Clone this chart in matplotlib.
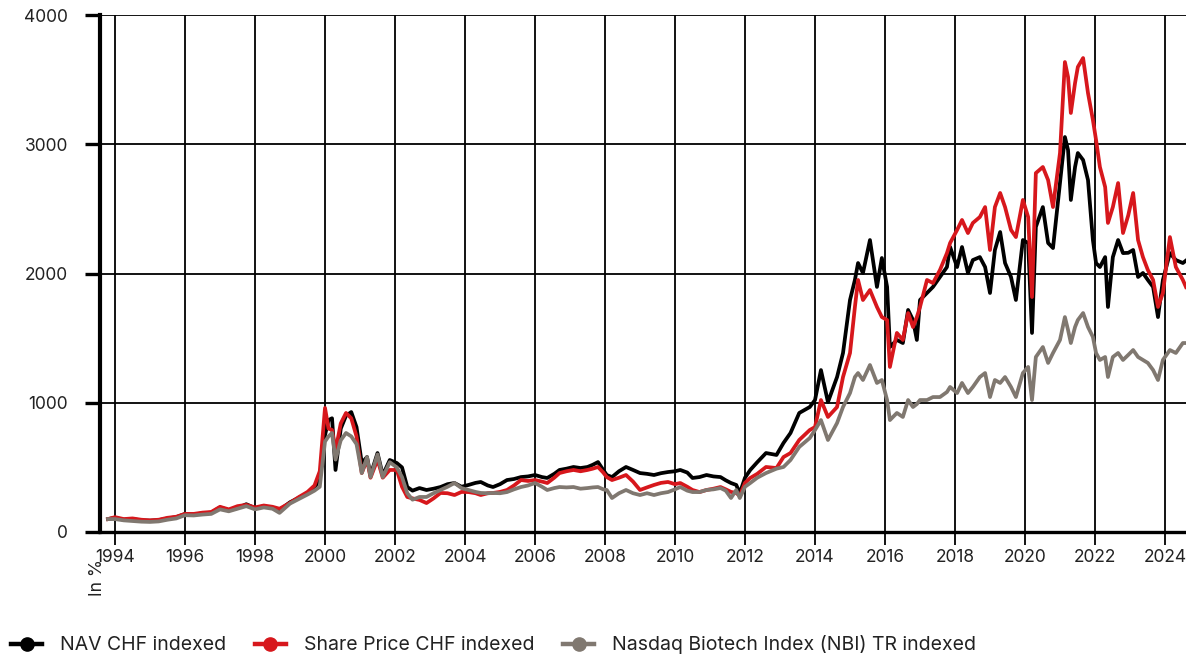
import matplotlib
matplotlib.use("Agg")
import matplotlib.pyplot as plt
from matplotlib.lines import Line2D

plt.rcParams['font.family'] = ['Inter', 'DejaVu Sans']

# time axis in fractional years (indexed, in %)
dates = [1993.8, 1994.0, 1994.25, 1994.5, 1994.75, 1995.0, 1995.25, 1995.5, 1995.75,
         1996.0, 1996.25, 1996.5, 1996.75, 1997.0, 1997.25, 1997.5, 1997.75, 1998.0,
         1998.25, 1998.5, 1998.7, 1999.0, 1999.25, 1999.5, 1999.7, 1999.85, 2000.0,
         2000.1, 2000.2, 2000.3, 2000.45, 2000.6, 2000.75, 2000.9, 2001.05, 2001.2,
         2001.3, 2001.5, 2001.65, 2001.85, 2002.05, 2002.2, 2002.35, 2002.5, 2002.7,
         2002.9, 2003.1, 2003.3, 2003.5, 2003.7, 2003.9, 2004.1, 2004.3, 2004.45,
         2004.65, 2004.8, 2005.0, 2005.2, 2005.4, 2005.6, 2005.8, 2006.0, 2006.2,
         2006.35, 2006.55, 2006.7, 2006.9, 2007.1, 2007.3, 2007.5, 2007.65, 2007.8,
         2007.95, 2008.05, 2008.2, 2008.4, 2008.6, 2008.8, 2009.0, 2009.2, 2009.4,
         2009.6, 2009.8, 2010.0, 2010.15, 2010.35, 2010.5, 2010.7, 2010.9, 2011.1,
         2011.3, 2011.45, 2011.6, 2011.75, 2011.85, 2012.0, 2012.15, 2012.35, 2012.6,
         2012.9, 2013.1, 2013.3, 2013.55, 2013.85, 2014.0, 2014.17, 2014.37, 2014.63,
         2014.8, 2015.0, 2015.14, 2015.23, 2015.37, 2015.57, 2015.77, 2015.91, 2016.06,
         2016.14, 2016.34, 2016.51, 2016.66, 2016.8, 2016.91, 2017.0, 2017.2, 2017.37,
         2017.57, 2017.77, 2017.86, 2018.06, 2018.2, 2018.37, 2018.51, 2018.71, 2018.86,
         2019.0, 2019.14, 2019.29, 2019.43, 2019.6, 2019.74, 2019.94, 2020.09, 2020.2,
         2020.31, 2020.51, 2020.66, 2020.8, 2021.0, 2021.14, 2021.23, 2021.31, 2021.43,
         2021.51, 2021.66, 2021.8, 2021.94, 2022.03, 2022.14, 2022.29, 2022.37, 2022.51,
         2022.66, 2022.8, 2022.95, 2023.09, 2023.23, 2023.37, 2023.51, 2023.66, 2023.8,
         2023.94, 2024.14, 2024.31, 2024.51, 2024.6]

nav = [100, 110, 95, 100, 90, 88, 92, 105, 115,
       140, 135, 145, 150, 190, 170, 185, 215, 185,
       200, 185, 170, 230, 265, 300, 340, 420, 750,
       866, 880, 480, 800, 900, 928, 812, 534, 580,
       440, 611, 440, 557, 534, 500, 348, 320, 340,
       325, 335, 348, 370, 379, 350, 364, 380, 387,
       360, 348, 370, 402, 410, 425, 430, 441, 425,
       418, 450, 480, 490, 503, 495, 503, 520, 541,
       480, 441, 425, 470, 503, 480, 456, 450, 441,
       455, 464, 470, 480, 460, 418, 425, 441, 430,
       425, 400, 379, 364, 300, 420, 480, 540, 611,
       596, 689, 766, 921, 967, 1021, 1253, 1005, 1199,
       1385, 1795, 1950, 2081, 2004, 2259, 1896, 2120, 1896,
       1431, 1486, 1462, 1718, 1640, 1486, 1795, 1849, 1896,
       1973, 2050, 2205, 2050, 2205, 2004, 2104, 2127, 2050,
       1849, 2182, 2321, 2081, 1973, 1795, 2259, 2236, 1540,
       2360, 2514, 2236, 2197, 2700, 3056, 2955, 2569, 2824,
       2932, 2878, 2723, 2259, 2081, 2050, 2127, 1741, 2127,
       2259, 2158, 2160, 2182, 1973, 2004, 1950, 1896, 1663,
       1950, 2158, 2104, 2081, 2100]

share_price = [100, 115, 100, 105, 95, 90, 95, 110, 118,
               140, 140, 150, 155, 195, 175, 200, 210, 190,
               205, 195, 180, 225, 270, 310, 360, 470, 960,
               800, 790, 630, 840, 921, 880, 740, 456, 560,
               420, 560, 420, 480, 480, 350, 271, 260, 248,
               224, 260, 302, 300, 286, 310, 309, 300, 286,
               300, 302, 310, 325, 360, 402, 395, 402, 390,
               379, 420, 456, 470, 480, 470, 480, 490, 503,
               460, 425, 402, 420, 441, 390, 325, 345, 364,
               380, 387, 370, 379, 350, 325, 309, 325, 335,
               348, 330, 310, 302, 280, 380, 418, 450, 503,
               495, 580, 611, 712, 789, 812, 1021, 890, 967,
               1199, 1385, 1741, 1950, 1795, 1872, 1741, 1663, 1640,
               1277, 1540, 1486, 1694, 1586, 1663, 1741, 1950, 1926,
               2027, 2158, 2236, 2337, 2414, 2313, 2391, 2437, 2514,
               2182, 2514, 2623, 2514, 2337, 2282, 2569, 2437, 1818,
               2777, 2824, 2723, 2514, 2932, 3636, 3520, 3242, 3474,
               3598, 3667, 3396, 3188, 3033, 2824, 2669, 2391, 2514,
               2700, 2313, 2450, 2623, 2259, 2127, 2027, 1950, 1741,
               1849, 2282, 2050, 1950, 1895]

nbi = [100, 100, 90, 85, 80, 78, 82, 95, 105,
       130, 128, 135, 140, 175, 160, 180, 200, 175,
       190, 180, 148, 220, 255, 290, 320, 350, 700,
       740, 766, 560, 710, 766, 740, 680, 456, 580,
       425, 600, 425, 540, 500, 425, 300, 250, 271,
       271, 300, 325, 350, 379, 340, 325, 310, 302,
       300, 302, 300, 309, 330, 348, 360, 379, 350,
       325, 340, 348, 345, 348, 335, 340, 345, 348,
       330, 325, 263, 300, 325, 300, 286, 300, 286,
       300, 309, 330, 348, 320, 309, 309, 325, 330,
       340, 320, 263, 325, 263, 350, 379, 420, 456,
       490, 503, 557, 658, 727, 789, 866, 712, 843,
       967, 1075, 1199, 1230, 1176, 1292, 1153, 1176, 1021,
       866, 921, 890, 1021, 967, 990, 1021, 1021, 1044,
       1044, 1083, 1122, 1075, 1153, 1075, 1122, 1199, 1230,
       1044, 1176, 1153, 1199, 1122, 1044, 1230, 1277, 1021,
       1354, 1431, 1308, 1385, 1486, 1663, 1563, 1462, 1586,
       1640, 1694, 1586, 1509, 1385, 1331, 1354, 1199, 1354,
       1385, 1331, 1370, 1408, 1354, 1331, 1308, 1253, 1176,
       1331, 1408, 1385, 1462, 1462]

series_labels = ['NAV CHF indexed', 'Share Price CHF indexed',
                 'Nasdaq Biotech Index (NBI) TR indexed']
series_colors = ['#000000', '#d7171c', '#807870']

x_ticks = list(range(1994, 2025, 2))
y_ticks = [0, 1000, 2000, 3000, 4000]

fig = plt.figure(figsize=(11.86, 6.54), dpi=100)
ax = fig.add_axes([100 / 1186, 1 - 532 / 654, 1 - 100 / 1186, (532 - 15) / 654])

for vals, lab, col in zip([nav, share_price, nbi], series_labels, series_colors):
    ax.plot(dates, vals, color=col, linewidth=2.7, label=lab, solid_joinstyle='round')

ax.set_xlim(1993.571, 2024.6)
ax.set_ylim(0, 4000)
ax.set_xticks(x_ticks)
ax.set_yticks(y_ticks)
ax.set_xticklabels([str(t) for t in x_ticks])
ax.set_yticklabels([str(t) for t in y_ticks])

ax.grid(True, color='#000000', linewidth=1.3)
ax.set_axisbelow(True)

for side in ['top', 'right']:
    ax.spines[side].set_visible(False)
ax.spines['left'].set_linewidth(3)
ax.spines['bottom'].set_linewidth(2.4)

ax.tick_params(axis='y', length=11, width=2.4, pad=12, labelsize=12.5, labelcolor='#222222')
ax.tick_params(axis='x', length=9.5, width=1.3, pad=3, labelsize=12.5, labelcolor='#222222')

fig.text(97 / 1186, 1 - 577 / 654, 'In %', rotation=90, ha='center', va='center',
         fontsize=12.5, color='#222222')

handles = [Line2D([0], [0], color=c, linewidth=3.2, marker='o', markersize=9.5)
           for c in series_colors]
fig.legend(handles, series_labels, loc='center left', bbox_to_anchor=(11 / 1186, 1 - 645 / 654),
           ncol=3, frameon=False, fontsize=14, handlelength=1.6, handletextpad=0.9,
           columnspacing=1.5, borderaxespad=0, borderpad=0, labelcolor='#222222')

fig.savefig('out.png', dpi=100)
plt.close(fig)
